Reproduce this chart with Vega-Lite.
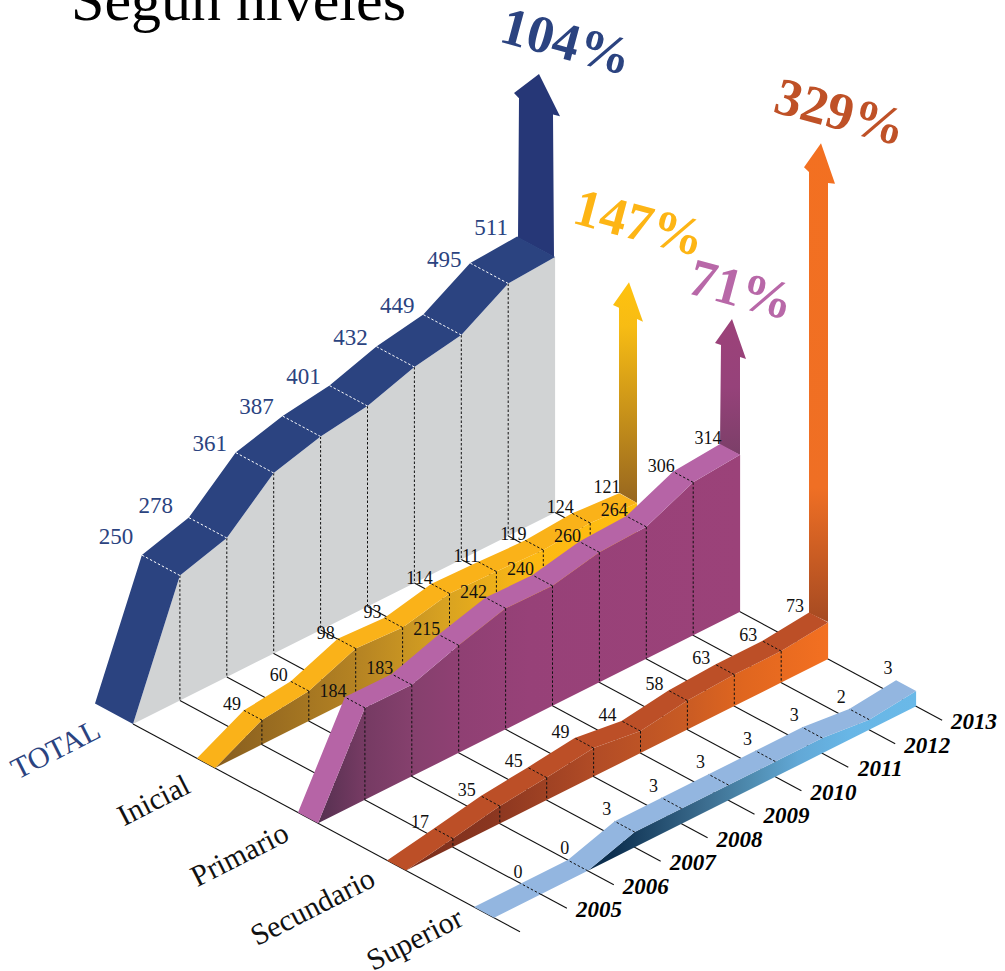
{"$schema":"https://vega.github.io/schema/vega-lite/v6.json","width":1005,"height":971,"padding":0,"autosize":{"type":"none"},"background":"white","config":{"view":{"stroke":null}},
"datasets":{"rows":[
{"level":"TOTAL","year":2004,"value":0},{"level":"TOTAL","year":2005,"value":250},{"level":"TOTAL","year":2006,"value":278},{"level":"TOTAL","year":2007,"value":361},{"level":"TOTAL","year":2008,"value":387},{"level":"TOTAL","year":2009,"value":401},{"level":"TOTAL","year":2010,"value":432},{"level":"TOTAL","year":2011,"value":449},{"level":"TOTAL","year":2012,"value":495},{"level":"TOTAL","year":2013,"value":511},
{"level":"Inicial","year":2004,"value":0},{"level":"Inicial","year":2005,"value":49},{"level":"Inicial","year":2006,"value":60},{"level":"Inicial","year":2007,"value":98},{"level":"Inicial","year":2008,"value":93},{"level":"Inicial","year":2009,"value":114},{"level":"Inicial","year":2010,"value":111},{"level":"Inicial","year":2011,"value":119},{"level":"Inicial","year":2012,"value":124},{"level":"Inicial","year":2013,"value":121},
{"level":"Primario","year":2004,"value":0},{"level":"Primario","year":2005,"value":184},{"level":"Primario","year":2006,"value":183},{"level":"Primario","year":2007,"value":215},{"level":"Primario","year":2008,"value":242},{"level":"Primario","year":2009,"value":240},{"level":"Primario","year":2010,"value":260},{"level":"Primario","year":2011,"value":264},{"level":"Primario","year":2012,"value":306},{"level":"Primario","year":2013,"value":314},
{"level":"Secundario","year":2004,"value":0},{"level":"Secundario","year":2005,"value":17},{"level":"Secundario","year":2006,"value":35},{"level":"Secundario","year":2007,"value":45},{"level":"Secundario","year":2008,"value":49},{"level":"Secundario","year":2009,"value":44},{"level":"Secundario","year":2010,"value":58},{"level":"Secundario","year":2011,"value":63},{"level":"Secundario","year":2012,"value":63},{"level":"Secundario","year":2013,"value":73},
{"level":"Superior","year":2004,"value":0},{"level":"Superior","year":2005,"value":0},{"level":"Superior","year":2006,"value":0},{"level":"Superior","year":2007,"value":3},{"level":"Superior","year":2008,"value":3},{"level":"Superior","year":2009,"value":3},{"level":"Superior","year":2010,"value":3},{"level":"Superior","year":2011,"value":3},{"level":"Superior","year":2012,"value":2},{"level":"Superior","year":2013,"value":3}
],
"arrows":[
{"level":"TOTAL","order":0,"s":-37,"h":255},{"level":"TOTAL","order":1,"s":-36,"h":395},{"level":"TOTAL","order":2,"s":-41,"h":397.5},{"level":"TOTAL","order":3,"s":-16,"h":430,"pct":"104%"},{"level":"TOTAL","order":4,"s":5,"h":399},{"level":"TOTAL","order":5,"s":-2,"h":397},{"level":"TOTAL","order":6,"s":-1,"h":255},
{"level":"Inicial","order":0,"s":64,"h":54},{"level":"Inicial","order":1,"s":64,"h":239},{"level":"Inicial","order":2,"s":58,"h":238.6},{"level":"Inicial","order":3,"s":74,"h":270,"pct":"147%"},{"level":"Inicial","order":4,"s":88,"h":238},{"level":"Inicial","order":5,"s":82,"h":237.5},{"level":"Inicial","order":6,"s":82,"h":53.5},
{"level":"Primario","order":0,"s":165,"h":156},{"level":"Primario","order":1,"s":166,"h":256.6},{"level":"Primario","order":2,"s":160,"h":255.4},{"level":"Primario","order":3,"s":177,"h":288.5,"pct":"71%"},{"level":"Primario","order":4,"s":191,"h":256},{"level":"Primario","order":5,"s":185,"h":254.8},{"level":"Primario","order":6,"s":185,"h":156.8},
{"level":"Secundario","order":0,"s":254,"h":36},{"level":"Secundario","order":1,"s":254,"h":477},{"level":"Secundario","order":2,"s":249,"h":479},{"level":"Secundario","order":3,"s":266,"h":512,"pct":"329%"},{"level":"Secundario","order":4,"s":280,"h":479},{"level":"Secundario","order":5,"s":273,"h":476},{"level":"Secundario","order":6,"s":273,"h":37}
],
"title":[{"text":"Según niveles"}]},
"data":{"name":"rows"},
"transform":[
{"calculate":"datum.year-2004","as":"t"},
{"calculate":"({'TOTAL':-38,'Inicial':64,'Primario':165,'Secundario':254,'Superior':341})[datum.level]","as":"s0"},
{"calculate":"({'TOTAL':0,'Inicial':82,'Primario':185,'Secundario':273,'Superior':361})[datum.level]","as":"s1"},
{"calculate":"datum.value*(datum.level=='Superior'?5.1:0.5)+(({'TOTAL2012':5,'Inicial2011':-6,'Inicial2012':-5,'Inicial2013':-7,'Secundario2008':4})[datum.level+datum.year]||0)","as":"h"},
{"calculate":"133+46.9*datum.t+datum.s1","as":"xF"},
{"calculate":"724-23.5*datum.t+0.537*datum.s1","as":"yF"},
{"calculate":"datum.yF-datum.h","as":"yFt"},
{"calculate":"133+46.9*datum.t+datum.s0","as":"xB"},
{"calculate":"724-23.5*datum.t+0.537*datum.s0-datum.h","as":"yBt"},
{"calculate":"datum.xF","as":"X"},
{"calculate":"datum.yFt","as":"Y"}
],
"encoding":{"x":{"field":"X","type":"quantitative","scale":{"domain":[0,1005],"nice":false,"zero":false},"axis":null},"y":{"field":"Y","type":"quantitative","scale":{"domain":[971,0],"nice":false,"zero":false},"axis":null}},
"layer":[
{"transform":[{"filter":"datum.level=='TOTAL'"}],"mark":{"type":"area","fill":"#d1d3d4","line":false},"encoding":{"y2":{"field":"yF"}}},
{"transform":[{"filter":"datum.level=='TOTAL'&&datum.t>=1&&datum.t<=8"}],"mark":{"type":"rule","stroke":"#111111","strokeWidth":1,"strokeDash":[2.5,2]},"encoding":{"y2":{"field":"yF"}}},
{"transform":[{"filter":"datum.level=='TOTAL'"},{"calculate":"datum.yF","as":"Y"},{"calculate":"datum.xF+387","as":"xE"},{"calculate":"datum.yF+0.537*387","as":"yE"}],"mark":{"type":"rule","stroke":"#111111","strokeWidth":1.1},"encoding":{"x2":{"field":"xE"},"y2":{"field":"yE"}}},

{"data":{"name":"arrows"},"transform":[{"filter":"datum.level=='TOTAL'"},{"calculate":"555+datum.s","as":"X"},{"calculate":"512.5+0.537*datum.s-datum.h","as":"Y"}],"mark":{"type":"line","fill":"#263777","stroke":null,"strokeWidth":0},"encoding":{"order":{"field":"order"}}},
{"transform":[{"filter":"datum.level=='TOTAL'"},{"calculate":"[0,1]","as":"edge"},{"flatten":["edge"]},{"calculate":"datum.edge==0?datum.xF:datum.xB","as":"X"},{"calculate":"datum.edge==0?datum.yFt:datum.yBt","as":"Y"},{"calculate":"datum.edge==0?datum.t:100-datum.t","as":"o"}],"mark":{"type":"line","fill":"#2b4380","stroke":null,"strokeWidth":0},"encoding":{"order":{"field":"o"}}},
{"transform":[{"filter":"datum.level=='TOTAL'&&datum.t>=1&&datum.t<=8"}],"mark":{"type":"rule","stroke":"#ffffff","strokeWidth":1,"strokeDash":[2.5,2]},"encoding":{"x2":{"field":"xB"},"y2":{"field":"yBt"}}},

{"data":{"name":"arrows"},"transform":[{"filter":"datum.level=='Inicial'"},{"calculate":"555+datum.s","as":"X"},{"calculate":"512.5+0.537*datum.s-datum.h","as":"Y"}],"mark":{"type":"line","stroke":null,"strokeWidth":0,"fill":{"gradient":"linear","x1":0,"y1":0,"x2":0,"y2":1,"stops":[{"offset":0,"color":"#ffc20e"},{"offset":0.2,"color":"#f7bc14"},{"offset":1,"color":"#97661f"}]}},"encoding":{"order":{"field":"order"}}},
{"transform":[{"filter":"datum.level=='Inicial'"}],"mark":{"type":"area","line":false,"fill":{"gradient":"linear","x1":0,"y1":0,"x2":1,"y2":0,"stops":[{"offset":0,"color":"#875d1f"},{"offset":0.35,"color":"#b78523"},{"offset":0.55,"color":"#d9a321"},{"offset":0.75,"color":"#fdb913"},{"offset":1,"color":"#ffbe10"}]}},"encoding":{"y2":{"field":"yF"}}},
{"transform":[{"filter":"datum.level=='Inicial'"},{"calculate":"[0,1]","as":"edge"},{"flatten":["edge"]},{"calculate":"datum.edge==0?datum.xF:datum.xB","as":"X"},{"calculate":"datum.edge==0?datum.yFt:datum.yBt","as":"Y"},{"calculate":"datum.edge==0?datum.t:100-datum.t","as":"o"}],"mark":{"type":"line","fill":"#fab219","stroke":null,"strokeWidth":0},"encoding":{"order":{"field":"o"}}},
{"transform":[{"filter":"datum.level=='Inicial'&&datum.t>=1&&datum.t<=8"}],"mark":{"type":"rule","stroke":"#111111","strokeWidth":1,"strokeDash":[2.5,2]},"encoding":{"x2":{"field":"xB"},"y2":{"field":"yBt"}}},
{"transform":[{"filter":"datum.level=='Inicial'&&datum.t>=1&&datum.t<=8"}],"mark":{"type":"rule","stroke":"#111111","strokeWidth":1,"strokeDash":[2.5,2]},"encoding":{"y2":{"field":"yF"}}},

{"data":{"name":"arrows"},"transform":[{"filter":"datum.level=='Primario'"},{"calculate":"555+datum.s","as":"X"},{"calculate":"512.5+0.537*datum.s-datum.h","as":"Y"}],"mark":{"type":"line","stroke":null,"strokeWidth":0,"fill":{"gradient":"linear","x1":0,"y1":0,"x2":0,"y2":1,"stops":[{"offset":0,"color":"#9c4279"},{"offset":0.5,"color":"#96427a"},{"offset":1,"color":"#7b3f68"}]}},"encoding":{"order":{"field":"order"}}},
{"transform":[{"filter":"datum.level=='Primario'"}],"mark":{"type":"area","line":false,"fill":{"gradient":"linear","x1":0,"y1":0,"x2":1,"y2":0,"stops":[{"offset":0,"color":"#553050"},{"offset":0.1,"color":"#743a62"},{"offset":0.22,"color":"#85406d"},{"offset":0.33,"color":"#8f4073"},{"offset":0.5,"color":"#974178"},{"offset":1,"color":"#9b4279"}]}},"encoding":{"y2":{"field":"yF"}}},
{"transform":[{"filter":"datum.level=='Primario'"},{"calculate":"[0,1]","as":"edge"},{"flatten":["edge"]},{"calculate":"datum.edge==0?datum.xF:datum.xB","as":"X"},{"calculate":"datum.edge==0?datum.yFt:datum.yBt","as":"Y"},{"calculate":"datum.edge==0?datum.t:100-datum.t","as":"o"}],"mark":{"type":"line","fill":"#b664a6","stroke":null,"strokeWidth":0},"encoding":{"order":{"field":"o"}}},
{"transform":[{"filter":"datum.level=='Primario'&&datum.t>=1&&datum.t<=8"}],"mark":{"type":"rule","stroke":"#111111","strokeWidth":1,"strokeDash":[2.5,2]},"encoding":{"x2":{"field":"xB"},"y2":{"field":"yBt"}}},
{"transform":[{"filter":"datum.level=='Primario'&&datum.t>=1&&datum.t<=8"}],"mark":{"type":"rule","stroke":"#111111","strokeWidth":1,"strokeDash":[2.5,2]},"encoding":{"y2":{"field":"yF"}}},

{"data":{"name":"arrows"},"transform":[{"filter":"datum.level=='Secundario'"},{"calculate":"555+datum.s","as":"X"},{"calculate":"512.5+0.537*datum.s-datum.h","as":"Y"}],"mark":{"type":"line","stroke":null,"strokeWidth":0,"fill":{"gradient":"linear","x1":0,"y1":0,"x2":0,"y2":1,"stops":[{"offset":0,"color":"#f37021"},{"offset":0.72,"color":"#ef6f24"},{"offset":1,"color":"#a54a22"}]}},"encoding":{"order":{"field":"order"}}},
{"transform":[{"filter":"datum.level=='Secundario'"}],"mark":{"type":"area","line":false,"fill":{"gradient":"linear","x1":0,"y1":0,"x2":1,"y2":0,"stops":[{"offset":0,"color":"#7a2e1c"},{"offset":0.2,"color":"#8a3620"},{"offset":0.45,"color":"#b24c26"},{"offset":0.65,"color":"#c75a24"},{"offset":0.8,"color":"#e0661f"},{"offset":1,"color":"#f37021"}]}},"encoding":{"y2":{"field":"yF"}}},
{"transform":[{"filter":"datum.level=='Secundario'"},{"calculate":"[0,1]","as":"edge"},{"flatten":["edge"]},{"calculate":"datum.edge==0?datum.xF:datum.xB","as":"X"},{"calculate":"datum.edge==0?datum.yFt:datum.yBt","as":"Y"},{"calculate":"datum.edge==0?datum.t:100-datum.t","as":"o"}],"mark":{"type":"line","fill":"#bc4f27","stroke":null,"strokeWidth":0},"encoding":{"order":{"field":"o"}}},
{"transform":[{"filter":"datum.level=='Secundario'&&datum.t>=1&&datum.t<=8"}],"mark":{"type":"rule","stroke":"#111111","strokeWidth":1,"strokeDash":[2.5,2]},"encoding":{"x2":{"field":"xB"},"y2":{"field":"yBt"}}},
{"transform":[{"filter":"datum.level=='Secundario'&&datum.t>=1&&datum.t<=8"}],"mark":{"type":"rule","stroke":"#111111","strokeWidth":1,"strokeDash":[2.5,2]},"encoding":{"y2":{"field":"yF"}}},

{"transform":[{"filter":"datum.level=='Superior'"}],"mark":{"type":"area","line":false,"fill":{"gradient":"linear","x1":0,"y1":0,"x2":1,"y2":0,"stops":[{"offset":0,"color":"#0c2f4f"},{"offset":0.28,"color":"#0c2f4f"},{"offset":0.5,"color":"#3c6d8f"},{"offset":0.61,"color":"#4f8cb0"},{"offset":0.72,"color":"#62a8d6"},{"offset":0.84,"color":"#68b6e6"},{"offset":1,"color":"#6ab9e8"}]}},"encoding":{"y2":{"field":"yF"}}},
{"transform":[{"filter":"datum.level=='Superior'"},{"calculate":"[0,1]","as":"edge"},{"flatten":["edge"]},{"calculate":"datum.edge==0?datum.xF:datum.xB","as":"X"},{"calculate":"datum.edge==0?datum.yFt:datum.yBt","as":"Y"},{"calculate":"datum.edge==0?datum.t:100-datum.t","as":"o"}],"mark":{"type":"line","fill":"#93b6e0","stroke":null,"strokeWidth":0},"encoding":{"order":{"field":"o"}}},
{"transform":[{"filter":"datum.level=='Superior'&&datum.t>=1&&datum.t<=8"}],"mark":{"type":"rule","stroke":"#111111","strokeWidth":1,"strokeDash":[2.5,2]},"encoding":{"x2":{"field":"xB"},"y2":{"field":"yBt"}}},

{"transform":[{"filter":"datum.level=='TOTAL'&&datum.t>=1"},{"calculate":"datum.xB-26+(datum.year==2006?-7:0)","as":"X"},{"calculate":"datum.yBt-9+(({'2005':-9,'2006':-3,'2012':6})[datum.year]||0)","as":"Y"}],"mark":{"type":"text","font":"Liberation Serif","fontSize":23,"fill":"#2b4380","align":"center","baseline":"middle"},"encoding":{"text":{"field":"value"}}},
{"transform":[{"filter":"datum.level!='TOTAL'&&datum.t>=1"},{"calculate":"datum.xB+({'Inicial':-12,'Primario':-12,'Secundario':-14,'Superior':(datum.value==0?-3:-8)})[datum.level]","as":"X"},{"calculate":"datum.yBt+({'Inicial':-5,'Primario':-5,'Secundario':-5,'Superior':-11})[datum.level]","as":"Y"}],"mark":{"type":"text","font":"Liberation Serif","fontSize":18,"fill":"#111111","align":"center","baseline":"middle"},"encoding":{"text":{"field":"value"}}},
{"transform":[{"filter":"datum.level=='TOTAL'"},{"calculate":"datum.xF+387+32","as":"X"},{"calculate":"datum.yF+0.537*387+2","as":"Y"},{"filter":"datum.t>=1"}],"mark":{"type":"text","font":"Liberation Serif","fontSize":23,"fontWeight":"bold","fontStyle":"italic","fill":"#000000","align":"center","baseline":"middle"},"encoding":{"text":{"field":"year"}}},
{"transform":[{"filter":"datum.t==0&&datum.level=='TOTAL'"},{"calculate":"datum.xF-77","as":"X"},{"calculate":"datum.yF+26","as":"Y"}],"mark":{"type":"text","font":"Liberation Serif","fontSize":30,"angle":333,"fill":"#2b4380","align":"center","baseline":"middle"},"encoding":{"text":{"field":"level"}}},
{"transform":[{"filter":"datum.t==0&&datum.level!='TOTAL'"},{"calculate":"datum.xF+({'Inicial':-61,'Primario':-78,'Secundario':-93,'Superior':-79})[datum.level]","as":"X"},{"calculate":"datum.yF+({'Inicial':33,'Primario':32,'Secundario':37,'Superior':22})[datum.level]","as":"Y"}],"mark":{"type":"text","font":"Liberation Serif","fontSize":30,"angle":333,"fill":"#111111","align":"center","baseline":"middle"},"encoding":{"text":{"field":"level"}}},
{"data":{"name":"arrows"},"transform":[{"filter":"datum.pct"},{"calculate":"555+datum.s+({'TOTAL':27,'Inicial':10,'Primario':9,'Secundario':19})[datum.level]","as":"X"},{"calculate":"512.5+0.537*datum.s-datum.h+({'TOTAL':-31,'Inicial':-58,'Primario':-28,'Secundario':-30})[datum.level]","as":"Y"}],"mark":{"type":"text","font":"Liberation Serif","fontSize":53,"fontWeight":"bold","angle":15,"align":"center","baseline":"middle"},"encoding":{"text":{"field":"pct"},"color":{"field":"level","type":"nominal","legend":null,"scale":{"domain":["TOTAL","Inicial","Primario","Secundario"],"range":["#2b4380","#fdb515","#b868a8","#bf5127"]}}}},
{"data":{"name":"title"},"transform":[{"calculate":"238.5","as":"X"},{"calculate":"20","as":"Y"}],"mark":{"type":"text","font":"Liberation Serif","fontSize":60,"fill":"#000000","align":"center","baseline":"alphabetic"},"encoding":{"text":{"field":"text"}}}
]}
